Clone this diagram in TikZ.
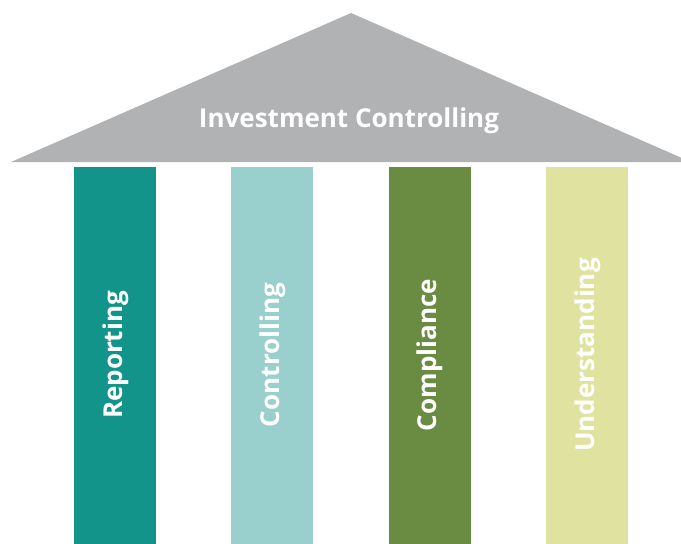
\documentclass[tikz,border=0pt]{standalone}
\usepackage{fontspec}
\setmainfont{Open Sans}
\definecolor{roofgray}{HTML}{B1B2B4}
\definecolor{colA}{HTML}{12948A}
\definecolor{colB}{HTML}{99D0CD}
\definecolor{colC}{HTML}{6A8C42}
\definecolor{colD}{HTML}{E0E3A0}
\begin{document}
\begin{tikzpicture}[x=1pt,y=-1pt,
  pillar/.style={minimum width=82pt,minimum height=377pt,inner sep=0pt,anchor=north west},
  pillartext/.style={font=\bfseries\fontsize{26}{30}\selectfont,text=white,rotate=90},
  rooftext/.style={font=\bfseries\fontsize{26}{30}\selectfont,text=white}]
\useasboundingbox (0,0) rectangle (681,544);
\fill[roofgray] (351,13) -- (691,162) -- (11,162) -- cycle;
\node[rooftext] (roof) at (349,121) {Investment Controlling};
\node[pillar,fill=colA] (p1) at (74,167) {};
\node[pillar,fill=colB] (p2) at (231,167) {};
\node[pillar,fill=colC] (p3) at (389,167) {};
\node[pillar,fill=colD] (p4) at (546,167) {};
\node[pillartext] (t1) at (116,355) {Reporting};
\node[pillartext] (t2) at (273,355) {Controlling};
\node[pillartext] (t3) at (430,355) {Compliance};
\node[pillartext] (t4) at (588,355) {Understanding};
\end{tikzpicture}
\end{document}
